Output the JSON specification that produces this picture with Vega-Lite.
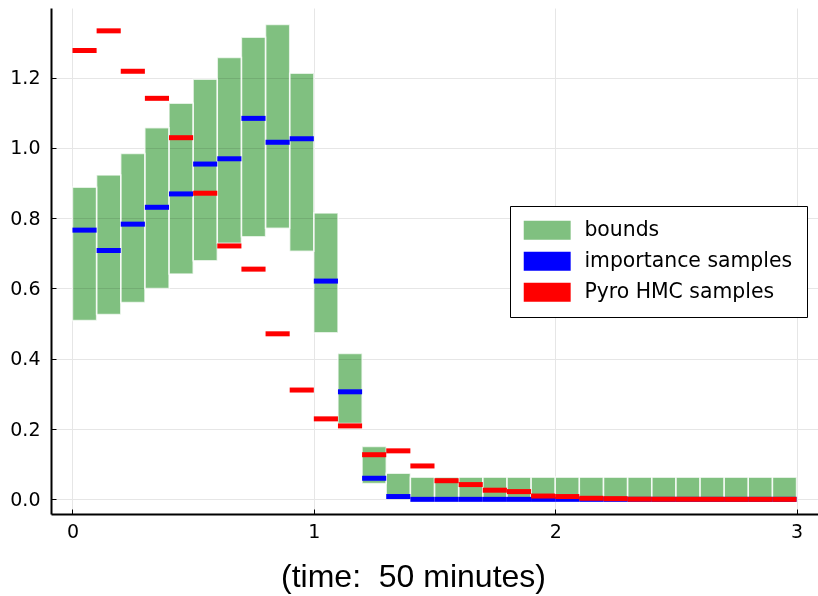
{
  "$schema": "https://vega.github.io/schema/vega-lite/v6.json",
  "width": 767,
  "height": 506,
  "autosize": {"type": "none"},
  "padding": {"left": 51, "top": 8, "right": 0, "bottom": 82},
  "background": "white",
  "config": {
    "view": {"stroke": null},
    "axis": {
      "labelFont": "DejaVu Sans",
      "labelFontSize": 19,
      "labelColor": "black",
      "domainColor": "black",
      "domainWidth": 2,
      "tickColor": "black",
      "tickSize": -5,
      "tickWidth": 1,
      "gridColor": "#e6e6e6",
      "gridWidth": 1
    }
  },
  "data": {
    "values": [
      {"x0": 0.0, "x1": 0.1, "lo": 0.509, "hi": 0.888, "imp": 0.766, "hmc": 1.277},
      {"x0": 0.1, "x1": 0.2, "lo": 0.526, "hi": 0.923, "imp": 0.708, "hmc": 1.333},
      {"x0": 0.2, "x1": 0.3, "lo": 0.560, "hi": 0.984, "imp": 0.783, "hmc": 1.218},
      {"x0": 0.3, "x1": 0.4, "lo": 0.600, "hi": 1.057, "imp": 0.831, "hmc": 1.141},
      {"x0": 0.4, "x1": 0.5, "lo": 0.641, "hi": 1.127, "imp": 0.869, "hmc": 1.029},
      {"x0": 0.5, "x1": 0.6, "lo": 0.679, "hi": 1.195, "imp": 0.954, "hmc": 0.871},
      {"x0": 0.6, "x1": 0.7, "lo": 0.729, "hi": 1.257, "imp": 0.969, "hmc": 0.721},
      {"x0": 0.7, "x1": 0.8, "lo": 0.747, "hi": 1.315, "imp": 1.084, "hmc": 0.655},
      {"x0": 0.8, "x1": 0.9, "lo": 0.771, "hi": 1.351, "imp": 1.016, "hmc": 0.471},
      {"x0": 0.9, "x1": 1.0, "lo": 0.706, "hi": 1.212, "imp": 1.026, "hmc": 0.311},
      {"x0": 1.0, "x1": 1.1, "lo": 0.474, "hi": 0.815, "imp": 0.621, "hmc": 0.229},
      {"x0": 1.1, "x1": 1.2, "lo": 0.216, "hi": 0.415, "imp": 0.306, "hmc": 0.209},
      {"x0": 1.2, "x1": 1.3, "lo": 0.045, "hi": 0.150, "imp": 0.060, "hmc": 0.127},
      {"x0": 1.3, "x1": 1.4, "lo": 0.004, "hi": 0.074, "imp": 0.008, "hmc": 0.138},
      {"x0": 1.4, "x1": 1.5, "lo": 0.0, "hi": 0.063, "imp": 0.0, "hmc": 0.095},
      {"x0": 1.5, "x1": 1.6, "lo": 0.0, "hi": 0.063, "imp": 0.0, "hmc": 0.053},
      {"x0": 1.6, "x1": 1.7, "lo": 0.0, "hi": 0.063, "imp": 0.0, "hmc": 0.042},
      {"x0": 1.7, "x1": 1.8, "lo": 0.0, "hi": 0.063, "imp": 0.0, "hmc": 0.026},
      {"x0": 1.8, "x1": 1.9, "lo": 0.0, "hi": 0.063, "imp": 0.0, "hmc": 0.022},
      {"x0": 1.9, "x1": 2.0, "lo": 0.0, "hi": 0.063, "imp": 0.0, "hmc": 0.0094},
      {"x0": 2.0, "x1": 2.1, "lo": 0.0, "hi": 0.063, "imp": 0.0, "hmc": 0.008},
      {"x0": 2.1, "x1": 2.2, "lo": 0.0, "hi": 0.063, "imp": 0.0, "hmc": 0.003},
      {"x0": 2.2, "x1": 2.3, "lo": 0.0, "hi": 0.063, "imp": 0.0, "hmc": 0.002},
      {"x0": 2.3, "x1": 2.4, "lo": 0.0, "hi": 0.063, "imp": 0.0, "hmc": 0.0005},
      {"x0": 2.4, "x1": 2.5, "lo": 0.0, "hi": 0.063, "imp": 0.0, "hmc": 0.0003},
      {"x0": 2.5, "x1": 2.6, "lo": 0.0, "hi": 0.063, "imp": 0.0, "hmc": 0.0002},
      {"x0": 2.6, "x1": 2.7, "lo": 0.0, "hi": 0.063, "imp": 0.0, "hmc": 0.0001},
      {"x0": 2.7, "x1": 2.8, "lo": 0.0, "hi": 0.063, "imp": 0.0, "hmc": 0.0},
      {"x0": 2.8, "x1": 2.9, "lo": 0.0, "hi": 0.063, "imp": 0.0, "hmc": 0.0},
      {"x0": 2.9, "x1": 3.0, "lo": 0.0, "hi": 0.063, "imp": 0.0, "hmc": 0.0}
    ]
  },
  "layer": [
    {
      "mark": {"type": "bar", "blend": "multiply"},
      "encoding": {
        "x": {
          "field": "x0", "type": "quantitative",
          "scale": {"domain": [-0.089, 3.089], "nice": false, "zero": false},
          "axis": {
            "values": [0, 1, 2, 3], "format": "d", "grid": true, "labelPadding": 13,
            "title": "(time:\u00a0 50 minutes)",
            "titleFont": "Liberation Sans", "titleFontSize": 32, "titleFontWeight": "normal",
            "titleColor": "black", "titleX": 362, "titleY": 72, "titleAlign": "center",
            "titleBaseline": "alphabetic"
          }
        },
        "x2": {"field": "x1"},
        "y": {
          "field": "lo", "type": "quantitative",
          "scale": {"domain": [-0.0417, 1.398], "nice": false, "zero": false},
          "axis": {
            "values": [0, 0.2, 0.4, 0.6, 0.8, 1.0, 1.2], "format": ".1f", "grid": true,
            "labelPadding": 16, "title": null
          }
        },
        "y2": {"field": "hi"},
        "color": {
          "datum": "bounds",
          "type": "nominal",
          "scale": {
            "domain": ["bounds", "importance samples", "Pyro HMC samples"],
            "range": ["#80c080", "#0000ff", "#ff0000"]
          },
          "legend": {
            "title": null,
            "orient": "none",
            "legendX": 459,
            "legendY": 198,
            "padding": 14,
            "strokeColor": "black",
            "fillColor": "white",
            "labelFont": "DejaVu Sans",
            "labelFontSize": 20.4,
            "labelColor": "black",
            "labelLimit": 500,
            "labelOffset": 27,
            "symbolOffset": 13,
            "rowPadding": 10,
            "symbolSize": 361,
            "symbolType": "M-2.47,-1H2.47V1H-2.47Z",
            "symbolStrokeWidth": 0,
            "encode": {
              "legend": {"strokeWidth": {"value": 2}}
            }
          }
        }
      }
    },
    {
      "mark": {"type": "bar", "fillOpacity": 0, "stroke": "white", "strokeWidth": 1.5, "strokeOpacity": 0.7},
      "encoding": {
        "x": {"field": "x0", "type": "quantitative"},
        "x2": {"field": "x1"},
        "y": {"field": "lo", "type": "quantitative"},
        "y2": {"field": "hi"}
      }
    },
    {
      "mark": {"type": "rule", "strokeWidth": 5, "strokeCap": "butt"},
      "encoding": {
        "x": {"field": "x0", "type": "quantitative"},
        "x2": {"field": "x1"},
        "y": {"field": "imp", "type": "quantitative"},
        "color": {"datum": "importance samples", "type": "nominal"}
      }
    },
    {
      "mark": {"type": "rule", "strokeWidth": 5, "strokeCap": "butt"},
      "encoding": {
        "x": {"field": "x0", "type": "quantitative"},
        "x2": {"field": "x1"},
        "y": {"field": "hmc", "type": "quantitative"},
        "color": {"datum": "Pyro HMC samples", "type": "nominal"}
      }
    }
  ]
}
